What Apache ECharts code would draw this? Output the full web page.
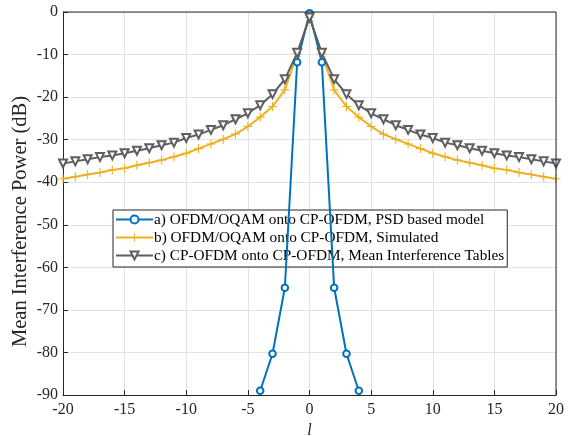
<!DOCTYPE html>
<html><head><meta charset="utf-8">
<script src="https://cdn.jsdelivr.net/npm/echarts@6/dist/echarts.min.js"></script>
<style>html,body{margin:0;padding:0;background:#fff}#c{width:569px;height:436px}</style>
</head><body><div id="c"></div>
<script>
// Data
const lA = [-4, -3, -2, -1, 0, 1, 2, 3, 4];
const psdModel = [-89, -80.3, -64.8, -11.8, -0.3, -11.8, -64.8, -80.3, -89];

const lAll = [];
for (let i = -20; i <= 20; i++) lAll.push(i);
// b) Simulated (l = -20..20)
const simulated = [-39.2, -38.7, -38.2, -37.7, -37.1, -36.7, -36.0, -35.4, -34.8, -34.0, -33.2,
  -32.1, -31.0, -29.9, -28.7, -26.9, -24.7, -22.2, -18.3, -9.8, -1.3,
  -9.8, -18.3, -22.2, -24.7, -26.9, -28.7, -29.9, -31.0, -32.1, -33.2,
  -34.0, -34.8, -35.4, -36.0, -36.7, -37.1, -37.7, -38.2, -38.7, -39.2];
// c) Mean Interference Tables (l = -20..20)
const tables = [-35.6, -35.1, -34.6, -34.1, -33.7, -33.2, -32.6, -32.0, -31.3, -30.7, -29.6,
  -28.8, -27.7, -26.6, -25.2, -23.8, -21.9, -19.3, -15.8, -9.6, -1.3,
  -9.6, -15.8, -19.3, -21.9, -23.8, -25.2, -26.6, -27.7, -28.8, -29.6,
  -30.7, -31.3, -32.0, -32.6, -33.2, -33.7, -34.1, -34.6, -35.1, -35.6];

const names = ['a) OFDM/OQAM onto CP-OFDM, PSD based model',
  'b) OFDM/OQAM onto CP-OFDM, Simulated',
  'c) CP-OFDM onto CP-OFDM, Mean Interference Tables'];
const xTicks = [-20, -15, -10, -5, 0, 5, 10, 15, 20];
const yTicks = [-90, -80, -70, -60, -50, -40, -30, -20, -10, 0];

const zip = (xs, ys) => xs.map((x, i) => [x, ys[i]]);
const font = 'Liberation Serif';
const axisCol = '#262626';
const plusPath = 'path://M4.4,0h1.2v4.4h4.4v1.2h-4.4v4.4h-1.2v-4.4h-4.4v-1.2h4.4z';

const chart = echarts.init(document.getElementById('c'), null, {renderer: 'canvas'});
chart.setOption({
  animation: false,
  backgroundColor: '#fff',
  grid: {left: 63, right: 13, top: 12, bottom: 41, containLabel: false, outerBoundsMode: 'none'},
  xAxis: {
    type: 'value', min: xTicks[0], max: xTicks[xTicks.length - 1], interval: 5,
    name: 'l', nameLocation: 'middle', nameGap: 28, nameMoveOverlap: false,
    nameTextStyle: {fontFamily: font, fontSize: 16, fontStyle: 'italic', color: axisCol},
    axisLine: {show: true, onZero: false, lineStyle: {color: axisCol, width: 1}},
    axisTick: {show: true, inside: true, length: 5, lineStyle: {color: axisCol}},
    axisLabel: {fontFamily: font, fontSize: 16, color: axisCol, margin: 7},
    splitLine: {show: true, lineStyle: {color: '#e3e3e3', width: 1}}
  },
  yAxis: {
    type: 'value', min: yTicks[0], max: yTicks[yTicks.length - 1], interval: 10,
    name: 'Mean Interference Power (dB)', nameLocation: 'middle', nameGap: 32, nameMoveOverlap: false,
    nameTextStyle: {fontFamily: font, fontSize: 20.5, color: axisCol, padding: [0, 36, 0, 0]},
    axisLine: {show: true, onZero: false, lineStyle: {color: axisCol, width: 1}},
    axisTick: {show: true, inside: true, length: 5, lineStyle: {color: axisCol}},
    axisLabel: {fontFamily: font, fontSize: 16, color: axisCol, margin: 5},
    splitLine: {show: true, lineStyle: {color: '#e3e3e3', width: 1}}
  },
  legend: {
    show: true, orient: 'vertical', left: 113, top: 210,
    width: 392, itemGap: 3, itemWidth: 37, itemHeight: 10,
    backgroundColor: '#fff', borderColor: axisCol, borderWidth: 1,
    padding: [2, 3, 4, 2],
    textStyle: {fontFamily: font, fontSize: 15.3, lineHeight: 15, color: '#000', padding: [0, 0, 0, -4]},
    data: names
  },
  series: [
    {
      name: names[0], type: 'line', data: zip(lA, psdModel), clip: false,
      color: '#0072BD', lineStyle: {width: 2, color: '#0072BD'},
      symbol: 'emptyCircle', symbolSize: 6.5,
      itemStyle: {color: '#0072BD', borderWidth: 1.6}, z: 4
    },
    {
      name: names[1], type: 'line', data: zip(lAll, simulated), clip: false,
      color: '#EDB120', lineStyle: {width: 2, color: '#EDB120'},
      symbol: plusPath, symbolSize: 9,
      itemStyle: {color: '#EDB120'}, z: 3
    },
    {
      name: names[2], type: 'line', data: zip(lAll, tables), clip: false,
      color: '#5f5f5f', lineStyle: {width: 2, color: '#5f5f5f'},
      symbol: 'emptyTriangle', symbolRotate: 180, symbolSize: 8,
      itemStyle: {color: '#5f5f5f', borderWidth: 1.6}, z: 5
    }
  ]
});
// box lines on top and right, as in the reference
chart.setOption({
  graphic: [{
    type: 'polyline', silent: true, z: 10,
    shape: {points: [chart.convertToPixel('grid', [-20, 0]), chart.convertToPixel('grid', [20, 0]), chart.convertToPixel('grid', [20, -90])]},
    style: {stroke: axisCol, lineWidth: 1, fill: null}
  }]
});
</script></body></html>
